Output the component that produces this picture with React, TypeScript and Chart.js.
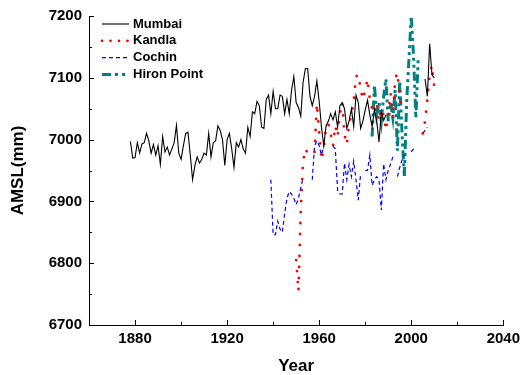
import React, { useEffect, useRef } from "react";
import { Chart, registerables } from "chart.js";

Chart.register(...registerables);

// ---- Data (annual mean sea level, mm) ----
const mumbaiStart = 1878;
const mumbaiValues: (number | null)[] = [
  6997, 6970,
  6971, 6995, 6978, 6993, 6995, 7010, 6998, 6978, 6992, 6975,
  6990, 6960, 7005, 6980, 6988, 6975, 6985, 6995, 7023, 6978,
  6968, 6990, 7010, 7012, 6975, 6935, 6958, 6972, 6962, 6968,
  6978, 6975, 7010, 6972, 6995, 6998, 7022, 7015, 7000, 6958,
  7000, 7010, 6985, 6955, 6995, 6988, 7000, 6985, 6978, 7020,
  7005, 7045, 7042, 7062, 7055, 7020, 7018, 7065, 7072, 7042,
  7078, 7050, 7050, 7072, 7070, 7042, 7065, 7042, 7080, 7102,
  7060, 7052, 7038, 7092, 7115, 7115, 7070, 7055, 7070, 7095,
  7062, 7020, 6990, 7022, 7030, 7042, 7032, 7045, 7020, 7055,
  7060, 7050, 7018, 7030, 7050, 7021, 7072, 7060, 7018, 7030,
  7048, 7064, 7040, 7021, 7048, 7030, 6996, 7045, 7031, 7040,
  null, null, null, null, null, null, null, null, null, null,
  null, null, null, null, null, null,
  7098, 7070, 7155, 7105, 7100,
];

const kandlaStart = 1950;
const kandlaValues: (number | null)[] = [
  6805, 6755, 6885, 6965, 6985, 6978, null, null, 6980, 7058,
  7012, 6967, 6985, 7022, 7025, 7010, 6990, 7022, 7005, 7042,
  7060, 7008, 6992, 7025, 7040, 7063, 7102, 7105, 7082, 7065,
  7080, 7098, 7065, 7050, 7042, 7060, 7030, 7050, 7040, 7015,
  7040, 7075, 7035, 7098, 7108, 7070, 7050, null, null, null,
  null, null, null, null, null, 7010, 7030, 7065, 7105, 7120,
  7085,
];

const cochinStart = 1939;
const cochinValues: (number | null)[] = [
  6935,
  6846, 6846, 6868, 6855, 6850, 6880, 6905, 6916, 6912, 6905,
  6895, 6905, 6922, 6938, null, null, null, 6935, 6990, 6998,
  6990, 6975, 6990, null, null, null, 6990, 6985, 6918, 6912,
  6912, 6962, 6935, 6960, 6940, 6965, 6935, 6902, 6945, null,
  6950, 6950, 6975, 6926, 6935, 6940, 6935, 6886, 6961, 6935,
  6950, 6960, 6972, null, 6940, 6955, 6967, 6975, null, null,
  6980, 6985, null, null, null, 7010, 7015, 7020,
];

const hironStart = 1983;
const hironValues: (number | null)[] = [
  7005, 7088, 7040, 7060, 7030, 7070, 7098,
  7030, 7060, 7035, 7080, 6982, 7095, 7010, 6940, 7060, 7130,
  7200, 7135, 7035, 7130,
];

const seriesNames = ["Mumbai", "Kandla", "Cochin", "Hiron Point"];

const xTickValues = [1880, 1920, 1960, 2000, 2040];
const xMinorValues = [1900, 1940, 1980, 2020];
const yTickValues = [6700, 6800, 6900, 7000, 7100, 7200];
const yMinorValues = [6750, 6850, 6950, 7050, 7150];

const FONT = '"Liberation Sans", Arial, Helvetica, sans-serif';

function toPoints(start: number, values: (number | null)[]) {
  return values.map((v, i) => ({ x: start + i, y: v }));
}

const innerTicks = {
  id: "innerTicks",
  afterDraw(chart: any) {
    const { ctx, chartArea, scales } = chart;
    const xs = scales.x;
    const ys = scales.y;
    ctx.save();
    ctx.strokeStyle = "#000";
    ctx.lineWidth = 1;
    ctx.beginPath();
    const yTick = (v: number, len: number) => {
      const py = Math.round(ys.getPixelForValue(v)) + 0.5;
      ctx.moveTo(chartArea.left, py);
      ctx.lineTo(chartArea.left + len, py);
    };
    const xTick = (v: number, len: number) => {
      const px = Math.round(xs.getPixelForValue(v)) + 0.5;
      ctx.moveTo(px, chartArea.bottom);
      ctx.lineTo(px, chartArea.bottom - len);
    };
    yTickValues.forEach((v) => yTick(v, 5));
    yMinorValues.forEach((v) => yTick(v, 3));
    xTickValues.forEach((v) => xTick(v, 5));
    xMinorValues.forEach((v) => xTick(v, 3));
    ctx.stroke();
    ctx.restore();
  },
};

const innerLegend = {
  id: "innerLegend",
  afterDraw(chart: any) {
    const { ctx } = chart;
    const x0 = 102;
    const x1 = 129;
    const textX = 133;
    const top = 24;
    const gap = 16.8;
    chart.data.datasets.forEach((ds: any, i: number) => {
      const yy = top + i * gap;
      ctx.save();
      ctx.strokeStyle = ds.borderColor;
      ctx.lineWidth = ds.borderWidth;
      ctx.lineCap = ds.borderCapStyle || "butt";
      ctx.setLineDash(ds.legendDash || ds.borderDash || []);
      ctx.beginPath();
      ctx.moveTo(x0, yy);
      ctx.lineTo(x1, yy);
      ctx.stroke();
      ctx.setLineDash([]);
      ctx.fillStyle = "#000";
      ctx.font = `bold 13px ${FONT}`;
      ctx.textBaseline = "middle";
      ctx.textAlign = "left";
      ctx.fillText(ds.label, textX, yy);
      ctx.restore();
    });
  },
};

export default function App() {
  const canvasRef = useRef<HTMLCanvasElement | null>(null);

  useEffect(() => {
    if (!canvasRef.current) return;
    const chart = new Chart(canvasRef.current, {
      type: "line",
      data: {
        datasets: [
          {
            label: seriesNames[0],
            data: toPoints(mumbaiStart, mumbaiValues),
            borderColor: "#000000",
            borderWidth: 1.1,
            pointRadius: 0,
            tension: 0,
            spanGaps: false,
          },
          {
            label: seriesNames[1],
            data: toPoints(kandlaStart, kandlaValues),
            borderColor: "#ff0000",
            borderWidth: 2.8,
            borderDash: [0, 11],
            legendDash: [0, 8.5],
            borderCapStyle: "round",
            pointRadius: 0,
            tension: 0,
            spanGaps: false,
          },
          {
            label: seriesNames[2],
            data: toPoints(cochinStart, cochinValues),
            borderColor: "#0000ff",
            borderWidth: 1.2,
            borderDash: [4, 3],
            pointRadius: 0,
            tension: 0,
            spanGaps: false,
          },
          {
            label: seriesNames[3],
            data: toPoints(hironStart, hironValues),
            borderColor: "#008080",
            borderWidth: 3,
            borderDash: [9, 4, 3, 4, 3, 4],
            pointRadius: 0,
            tension: 0,
            spanGaps: false,
          },
        ],
      } as any,
      options: {
        animation: false,
        responsive: false,
        maintainAspectRatio: false,
        layout: { padding: { top: 16, right: 20, left: 0, bottom: 0 } },
        plugins: {
          legend: { display: false },
          tooltip: { enabled: false },
        },
        scales: {
          x: {
            type: "linear",
            min: 1860,
            max: 2040,
            grid: { display: false, drawTicks: false },
            border: { display: true, color: "#000", width: 1 },
            afterBuildTicks: (s: any) => {
              s.ticks = xTickValues.map((v) => ({ value: v }));
            },
            afterFit: (s: any) => {
              s.height = 50;
            },
            ticks: {
              color: "#000",
              padding: 5,
              maxRotation: 0,
              autoSkip: false,
              font: { family: FONT, size: 15, weight: "bold" },
              callback: (v: any) => String(v),
            },
            title: {
              display: true,
              text: "Year",
              color: "#000",
              font: { family: FONT, size: 17, weight: "bold", lineHeight: 1 },
              padding: { top: 0, bottom: 0 },
            },
          },
          y: {
            type: "linear",
            min: 6700,
            max: 7200,
            grid: { display: false, drawTicks: false },
            border: { display: true, color: "#000", width: 1 },
            afterBuildTicks: (s: any) => {
              s.ticks = yTickValues.map((v) => ({ value: v }));
            },
            afterFit: (s: any) => {
              s.width = 89;
            },
            ticks: {
              color: "#000",
              padding: 7,
              autoSkip: false,
              font: { family: FONT, size: 15, weight: "bold" },
              callback: (v: any) => String(v),
            },
            title: {
              display: true,
              text: "AMSL(mm)",
              color: "#000",
              font: { family: FONT, size: 17, weight: "bold", lineHeight: 1 },
              padding: { top: 10, bottom: 0 },
            },
          },
        },
      } as any,
      plugins: [innerTicks, innerLegend],
    });
    return () => chart.destroy();
  }, []);

  return (
    <div style={{ position: "absolute", left: 0, top: 0, width: 525, height: 375, background: "#fff" }}>
      <canvas ref={canvasRef} width={525} height={375} style={{ width: 525, height: 375 }} />
    </div>
  );
}
